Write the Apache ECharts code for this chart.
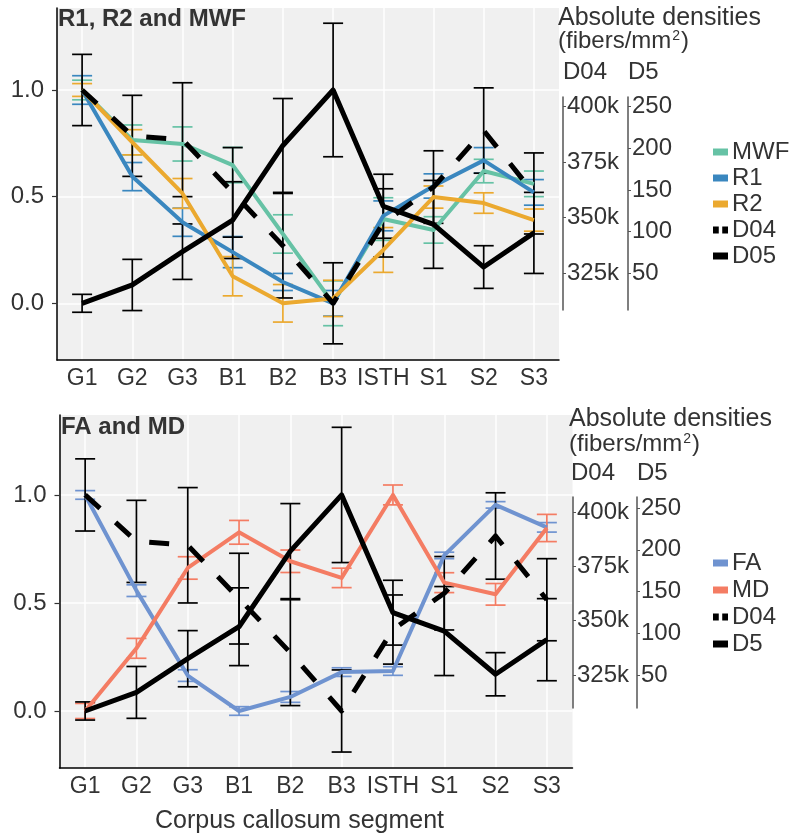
<!DOCTYPE html>
<html>
<head>
<meta charset="utf-8">
<title>Corpus callosum segment</title>
<script src="https://cdn.jsdelivr.net/npm/echarts@6/dist/echarts.min.js"></script>
<style>
html, body { margin: 0; padding: 0; background: #fff; }
#chart { width: 796px; height: 836px; }
</style>
</head>
<body>
<div id="chart"></div>
<script type="text/javascript">
// segments of the corpus callosum (x axis)
var segments = ['G1', 'G2', 'G3', 'B1', 'B2', 'B3', 'ISTH', 'S1', 'S2', 'S3'];

// normalised means and error bar half widths, top panel
var mwf    = [1.00, 0.766, 0.747, 0.648, 0.325, 0.00, 0.395, 0.344, 0.62, 0.56];
var mwfErr = [0.046, 0.07, 0.08, 0.083, 0.09, 0.105, 0.10, 0.062, 0.055, 0.06];
var r1     = [1.00, 0.594, 0.38, 0.24, 0.10, 0.00, 0.41, 0.55, 0.67, 0.52];
var r1Err  = [0.067, 0.066, 0.066, 0.073, 0.04, 0.06, 0.07, 0.057, 0.06, 0.06];
var r2     = [1.00, 0.755, 0.515, 0.127, 0.00, 0.023, 0.25, 0.498, 0.47, 0.39];
var r2Err  = [0.03, 0.059, 0.07, 0.092, 0.088, 0.085, 0.105, 0.052, 0.048, 0.052];

// bottom panel
var fa     = [1.00, 0.557, 0.164, 0.00, 0.065, 0.18, 0.185, 0.72, 0.954, 0.85];
var faErr  = [0.02, 0.027, 0.027, 0.02, 0.025, 0.02, 0.02, 0.015, 0.015, 0.022];
var md     = [0.00, 0.29, 0.662, 0.827, 0.693, 0.616, 1.00, 0.594, 0.54, 0.847];
var mdErr  = [0.035, 0.046, 0.052, 0.055, 0.052, 0.045, 0.046, 0.046, 0.05, 0.063];

// fiber densities (normalised), same in both panels
var d04    = [1.00, 0.785, 0.767, 0.52, 0.27, 0.00, 0.377, 0.545, 0.81, 0.515];
var d04Err = [0.167, 0.19, 0.267, 0.21, 0.245, 0.19, 0.16, 0.17, 0.2, 0.19];
var d05    = [0.00, 0.086, 0.242, 0.39, 0.74, 1.00, 0.455, 0.37, 0.17, 0.33];
var d05Err = [0.042, 0.12, 0.13, 0.18, 0.22, 0.313, 0.15, 0.206, 0.10, 0.19];

// tick labels
var relTicks = [0, 0.5, 1];
var d04Ticks = [325000, 350000, 375000, 400000];
var d5Ticks  = [50, 100, 150, 200, 250];

var FONT = 'Liberation Sans, Arial, sans-serif';
var TXT = '#333';

var colMWF = '#66C2A5', colR1 = '#3A87BF', colR2 = '#EBA92F';
var colFA = '#6F93D0', colMD = '#F47C63';

function barData(m, e) {
    return segments.map(function (s, i) { return [i, m[i] - e[i], m[i] + e[i]]; });
}

function renderBar(params, api) {
    var x = api.value(0);
    var lo = api.coord([x, api.value(1)]);
    var hi = api.coord([x, api.value(2)]);
    var half = 10;
    var st = { stroke: api.visual('color'), lineWidth: 1.7 };
    return {
        type: 'group',
        children: [
            { type: 'line', shape: { x1: lo[0], y1: lo[1], x2: hi[0], y2: hi[1] }, style: st },
            { type: 'line', shape: { x1: lo[0] - half, y1: lo[1], x2: lo[0] + half, y2: lo[1] }, style: st },
            { type: 'line', shape: { x1: hi[0] - half, y1: hi[1], x2: hi[0] + half, y2: hi[1] }, style: st }
        ]
    };
}

// xa / ya: axis indices of the panel
function errSeries(name, m, e, color, xa, ya) {
    return {
        name: name, type: 'custom', xAxisIndex: xa, yAxisIndex: ya,
        renderItem: renderBar, itemStyle: { color: color },
        encode: { x: 0, y: [1, 2] }, data: barData(m, e), silent: true
    };
}

function lineSeries(name, m, color, width, dash, xa, ya) {
    return {
        name: name, type: 'line', xAxisIndex: xa, yAxisIndex: ya,
        data: m, symbol: 'none', color: color, itemStyle: { color: color },
        lineStyle: { color: color, width: width, type: dash || 'solid', join: 'round' },
        silent: true
    };
}

function mainX(grid) {
    return {
        gridIndex: grid, type: 'category', data: segments, boundaryGap: true,
        axisLine: { onZero: false, lineStyle: { color: '#000', width: 1.5 } },
        axisTick: { alignWithLabel: true, interval: 0, length: 5, lineStyle: { color: '#333', width: 1.2 } },
        axisLabel: { interval: 0, fontSize: 23, color: TXT, fontFamily: FONT, margin: 7 },
        splitLine: { show: true, interval: 0, alignWithLabel: true, lineStyle: { color: '#fff', width: 1.5 } }
    };
}

function mainY(grid, min, max) {
    return {
        gridIndex: grid, type: 'value', min: min, max: max,
        axisLine: { show: true, lineStyle: { color: '#000', width: 1.5 } },
        axisTick: { show: true, length: 5, customValues: relTicks, lineStyle: { color: '#333', width: 1.2 } },
        axisLabel: { customValues: relTicks, fontSize: 24, color: TXT, fontFamily: FONT, margin: 13,
            formatter: function (v) { return v.toFixed(1); } },
        splitLine: { show: true, lineStyle: { color: '#fff', width: 1.5 } }
    };
}

function densY(grid, min, max, ticks, offset, fmt) {
    return {
        gridIndex: grid, type: 'value', position: 'right', offset: offset, min: min, max: max,
        axisLine: { show: true, lineStyle: { color: '#555', width: 1.5 } },
        axisTick: { show: true, length: 3, customValues: ticks, lineStyle: { color: '#555', width: 1 } },
        axisLabel: { customValues: ticks, fontSize: 24, color: TXT, fontFamily: FONT, margin: 4, formatter: fmt },
        splitLine: { show: false }
    };
}

function hiddenX(grid) {
    return { gridIndex: grid, type: 'category', data: segments, show: false };
}

function kfmt(v) { return (v / 1000) + 'k'; }
function nfmt(v) { return String(v); }

function txt(text, left, top, extra) {
    var t = { text: text, left: left, top: top, padding: 0,
        textStyle: { fontSize: 24, fontWeight: 'normal', color: TXT, fontFamily: FONT,
            rich: {
                n: { fontSize: 24, color: TXT, fontFamily: FONT },
                sup: { fontSize: 14, color: TXT, fontFamily: FONT, verticalAlign: 'top', padding: [0, 1, 10, 1] }
            } } };
    if (extra) { for (var k in extra) t.textStyle[k] = extra[k]; }
    return t;
}

var dash = [20, 21];
var d04Icon = 'path://M0,0h5v6h-5z M8,0h5v6h-5z';

var chart = echarts.init(document.getElementById('chart'));
var option = {
    animation: false,
    backgroundColor: '#fff',
    title: [
        txt('R1, R2 and MWF', 58, 7, { fontWeight: 'bold' }),
        txt('FA and MD', 61, 415, { fontWeight: 'bold' }),
        txt('Absolute densities', 558, 6, { fontSize: 25 }),
        txt('{n|(fibers/mm}{sup|2}{n|)}', 558, 29),
        txt('D04', 563, 60),
        txt('D5', 628, 60),
        txt('Absolute densities', 569, 407, { fontSize: 25 }),
        txt('{n|(fibers/mm}{sup|2}{n|)}', 569, 432),
        txt('D04', 571, 461),
        txt('D5', 637, 461),
        txt('Corpus callosum segment', 155, 809, { fontSize: 25 })
    ],
    legend: [{
        orient: 'vertical', left: 713, top: 140, padding: 0, itemGap: 2,
        itemWidth: 15, itemHeight: 7, icon: 'rect',
        itemStyle: { borderWidth: 0 },
        textStyle: { fontSize: 24, color: TXT, fontFamily: FONT, padding: [0, 0, 0, -1] },
        data: ['MWF', 'R1', 'R2', { name: 'D04', icon: d04Icon }, 'D05']
    }, {
        orient: 'vertical', left: 713, top: 551, padding: 0, itemGap: 3,
        itemWidth: 15, itemHeight: 7, icon: 'rect',
        itemStyle: { borderWidth: 0 },
        textStyle: { fontSize: 24, color: TXT, fontFamily: FONT, padding: [0, 0, 0, -1] },
        data: ['FA', 'MD', { name: 'D04', icon: d04Icon }, 'D5']
    }],
    grid: [
        { left: 57, top: 8, width: 502, height: 352, show: true, backgroundColor: '#F0F0F0', borderWidth: 0 },
        { left: 540, top: 97, width: 23, height: 213, show: false },
        { left: 59.5, top: 415, width: 513, height: 353, show: true, backgroundColor: '#F0F0F0', borderWidth: 0 },
        { left: 550, top: 497, width: 23, height: 211, show: false }
    ],
    xAxis: [mainX(0), hiddenX(1), mainX(2), hiddenX(3)],
    yAxis: [
        mainY(0, -0.2658, 1.3844),
        densY(1, 308262, 404377, d04Ticks, 0, kfmt),
        densY(1, 5.9, 261.6, d5Ticks, 65, nfmt),
        mainY(2, -0.2639, 1.370),
        densY(3, 309807, 406906, d04Ticks, 0, kfmt),
        densY(3, 10.5, 263.2, d5Ticks, 64, nfmt)
    ],
    series: [
        // top panel
        errSeries('MWF err', mwf, mwfErr, colMWF, 0, 0),
        errSeries('R1 err', r1, r1Err, colR1, 0, 0),
        errSeries('R2 err', r2, r2Err, colR2, 0, 0),
        lineSeries('MWF', mwf, colMWF, 4, null, 0, 0),
        lineSeries('R1', r1, colR1, 4, null, 0, 0),
        lineSeries('R2', r2, colR2, 4, null, 0, 0),
        errSeries('D04 err', d04, d04Err, '#000', 0, 0),
        errSeries('D05 err', d05, d05Err, '#000', 0, 0),
        lineSeries('D04', d04, '#000', 5, dash, 0, 0),
        lineSeries('D05', d05, '#000', 5, null, 0, 0),
        // bottom panel
        errSeries('FA err', fa, faErr, colFA, 2, 3),
        errSeries('MD err', md, mdErr, colMD, 2, 3),
        lineSeries('FA', fa, colFA, 4, null, 2, 3),
        lineSeries('MD', md, colMD, 4, null, 2, 3),
        errSeries('D04 err b', d04, d04Err, '#000', 2, 3),
        errSeries('D5 err', d05, d05Err, '#000', 2, 3),
        lineSeries('D04', d04, '#000', 5, dash, 2, 3),
        lineSeries('D5', d05, '#000', 5, null, 2, 3)
    ]
};
chart.setOption(option);
</script>
</body>
</html>
